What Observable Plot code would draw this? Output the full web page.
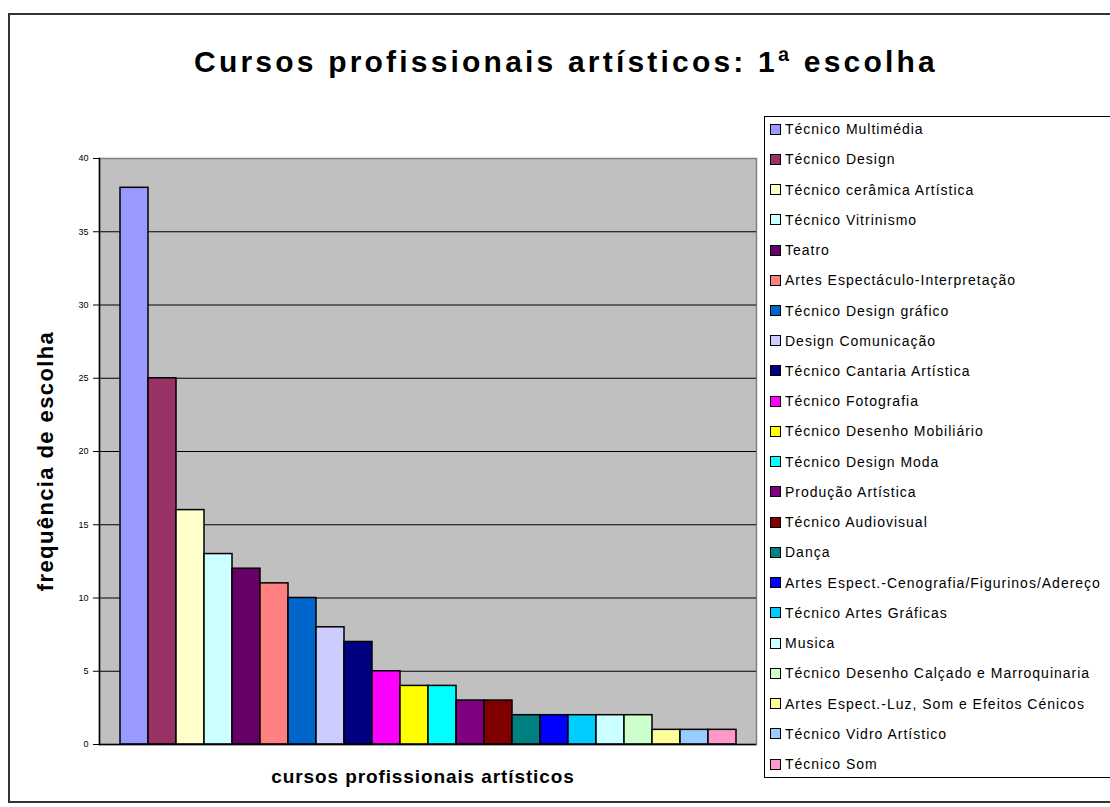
<!DOCTYPE html>
<html>
<head>
<meta charset="utf-8">
<script src="https://cdn.jsdelivr.net/npm/d3@7"></script>
<script src="https://cdn.jsdelivr.net/npm/@observablehq/plot@0.6"></script>
<style>
  body { margin: 0; background: #fff; font-family: "Liberation Sans", Arial, sans-serif; }
  #wrap { position: relative; width: 1110px; height: 807px; overflow: hidden; background: #fff; }
  #outer { position: absolute; left: 8px; top: 13px; width: 1120px; height: 786px; border: 2px solid #333; }
  #title { position: absolute; left: 0; width: 1132px; top: 45px; text-align: center; font-weight: bold; font-size: 30px; letter-spacing: 3.2px; white-space: nowrap; }
  #chart { position: absolute; left: 0; top: 0; }
  #ylab { position: absolute; left: 46px; top: 461px; transform: translate(-50%, -50%) rotate(-90deg); font-weight: bold; font-size: 22px; letter-spacing: 1.4px; white-space: nowrap; }
  #xlab { position: absolute; left: 423px; top: 777px; transform: translate(-50%, -50%); font-weight: bold; font-size: 19px; letter-spacing: 0.9px; white-space: nowrap; }
  #legbox { position: absolute; left: 764px; top: 116px; width: 360px; height: 662px; border: 1.5px solid #000; box-sizing: border-box; }
  #legend { position: absolute; left: 770px; top: 114px; }
  .row { height: 30.24px; display: flex; align-items: center; font-size: 14px; letter-spacing: 1px; white-space: nowrap; }
  .sw { width: 9px; height: 9px; border: 1.5px solid #000; margin-right: 4px; flex: none; }
</style>
</head>
<body>
<div id="wrap">
  <div id="outer"></div>
  <div id="title">Cursos profissionais artísticos: 1ª escolha</div>
  <div id="chart"></div>
  <div id="ylab">frequência de escolha</div>
  <div id="xlab">cursos profissionais artísticos</div>
  <div id="legbox"></div>
  <div id="legend"></div>
</div>
<script>
const names = [
  "Técnico Multimédia",
  "Técnico Design",
  "Técnico cerâmica Artística",
  "Técnico Vitrinismo",
  "Teatro",
  "Artes Espectáculo-Interpretação",
  "Técnico Design gráfico",
  "Design Comunicação",
  "Técnico Cantaria Artística",
  "Técnico Fotografia",
  "Técnico Desenho Mobiliário",
  "Técnico Design Moda",
  "Produção Artística",
  "Técnico Audiovisual",
  "Dança",
  "Artes Espect.-Cenografia/Figurinos/Adereço",
  "Técnico Artes Gráficas",
  "Musica",
  "Técnico Desenho Calçado e Marroquinaria",
  "Artes Espect.-Luz, Som e Efeitos Cénicos",
  "Técnico Vidro Artístico",
  "Técnico Som"
];
const values = [38, 25, 16, 13, 12, 11, 10, 8, 7, 5, 4, 4, 3, 3, 2, 2, 2, 2, 2, 1, 1, 1];
const colors = [
  "#9999FF", "#993366", "#FFFFCC", "#CCFFFF", "#660066", "#FF8080",
  "#0066CC", "#CCCCFF", "#000080", "#FF00FF", "#FFFF00", "#00FFFF",
  "#800080", "#800000", "#008080", "#0000FF", "#00CCFF", "#CCFFFF",
  "#CCFFCC", "#FFFF99", "#99CCFF", "#FF99CC"
];
const yTicks = [0, 5, 10, 15, 20, 25, 30, 35, 40];
const gridTicks = [5, 10, 15, 20, 25, 30, 35];

const data = names.map((n, i) => ({name: n, value: values[i]}));

const chart = Plot.plot({
  width: 760,
  height: 807,
  marginLeft: 99,
  marginRight: 4,
  marginTop: 158,
  marginBottom: 63,
  style: {fontFamily: "Liberation Sans, Arial, sans-serif", fontSize: "9px", background: "transparent", overflow: "visible"},
  x: {domain: names, paddingInner: 0, paddingOuter: 0.72, axis: null},
  y: {domain: [0, 40], ticks: yTicks, tickSize: 6, tickPadding: 5, label: null, tickFormat: d => d},
  color: {domain: names, range: colors},
  marks: [
    Plot.frame({fill: "#C0C0C0", stroke: "#808080", strokeWidth: 1.5}),
    Plot.ruleY(gridTicks, {stroke: "#000", strokeWidth: 1}),
    Plot.barY(data, {x: "name", y: "value", fill: "name", stroke: "#000", strokeWidth: 1.5}),
    Plot.ruleY([0], {stroke: "#000", strokeWidth: 1.5}),
    Plot.frame({anchor: "left", stroke: "#000", strokeWidth: 1.5}),
    Plot.axisY({ticks: yTicks, tickSize: 6, tickPadding: 5, stroke: "#000", label: null, fontSize: 9})
  ]
});
document.getElementById("chart").appendChild(chart);

const leg = document.getElementById("legend");
names.forEach((n, i) => {
  const row = document.createElement("div");
  row.className = "row";
  const sw = document.createElement("div");
  sw.className = "sw";
  sw.style.background = colors[i];
  const t = document.createElement("span");
  t.textContent = n;
  row.appendChild(sw);
  row.appendChild(t);
  leg.appendChild(row);
});
</script>
</body>
</html>
